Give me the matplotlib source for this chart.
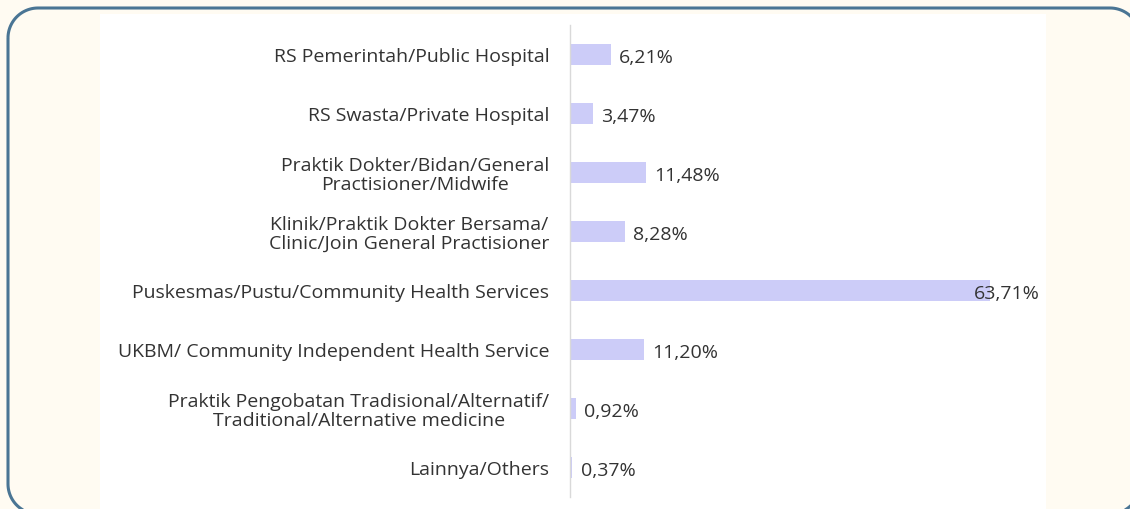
"""Health facility usage - horizontal bar chart."""

import matplotlib
matplotlib.use("Agg")
import matplotlib.pyplot as plt
import matplotlib.patches as mpatches
import numpy as np

# ── data ──────────────────────────────────────────────────────────────────────

categories = [
    "RS Pemerintah/Public Hospital",
    "RS Swasta/Private Hospital",
    "Praktik Dokter/Bidan/General\nPractisioner/Midwife",
    "Klinik/Praktik Dokter Bersama/\nClinic/Join General Practisioner",
    "Puskesmas/Pustu/Community Health Services",
    "UKBM/ Community Independent Health Service",
    "Praktik Pengobatan Tradisional/Alternatif/\nTraditional/Alternative medicine",
    "Lainnya/Others",
]
values = [6.21, 3.47, 11.48, 8.28, 63.71, 11.20, 0.92, 0.37]
value_labels = ["6,21%", "3,47%", "11,48%", "8,28%", "63,71%", "11,20%", "0,92%", "0,37%"]

# ── style ─────────────────────────────────────────────────────────────────────

BG = "#FFFBF2"
BORDER = "#4A7594"
BAR = "#CCCCF8"
TEXT = "#333333"
FS = 14
plt.rcParams["font.family"] = ["Open Sans", "DejaVu Sans"]

W, H = 1130, 510
fig = plt.figure(figsize=(W / 100, H / 100), dpi=100)
fig.patch.set_facecolor(BG)


def rounded_frame(x0, y0, x1, y1, r, n=24):
    """Vertices of a rounded rectangle in pixel coords (y down)."""
    pts = []
    corners = [
        (x0 + r, y0 + r, np.pi, 1.5 * np.pi),        # top-left
        (x1 - r, y0 + r, 1.5 * np.pi, 2 * np.pi),    # top-right
        (x1 - r, y1 - r, 0, 0.5 * np.pi),            # bottom-right
        (x0 + r, y1 - r, 0.5 * np.pi, np.pi),        # bottom-left
    ]
    for cx, cy, a0, a1 in corners:
        t = np.linspace(a0, a1, n)
        pts.extend(zip(cx + r * np.cos(t), cy + r * np.sin(t)))
    return np.array(pts)


# background axes in pixel units (y down) for the panel and rounded frame
bg = fig.add_axes([0, 0, 1, 1], zorder=-1)
bg.set_xlim(0, W)
bg.set_ylim(H, 0)
bg.axis("off")
bg.add_patch(mpatches.Rectangle((100, 15), 946, 500, facecolor="white",
                                edgecolor="none"))
bg.add_patch(mpatches.Polygon(rounded_frame(8, 9, 1140, 515, 30), closed=True,
                              facecolor="none", edgecolor=BORDER, linewidth=2.2,
                              joinstyle="round", clip_on=False))

ax = fig.add_axes([570 / W, 12 / H, 475 / W, 472 / H], zorder=1)
ax.set_facecolor("none")

y = np.arange(len(categories))
ax.barh(y, values, height=0.36, color=BAR, zorder=2)

xmax = 72.0
ax.set_xlim(0, xmax)
ax.set_ylim(len(categories) - 0.5, -0.5)

ax.set_yticks(y)
ax.set_yticklabels(categories, fontsize=FS, color=TEXT,
                   multialignment="center", linespacing=1.05)
ax.tick_params(axis="y", length=0, pad=15)
ax.set_xticks([])

for s in ("top", "right", "bottom"):
    ax.spines[s].set_visible(False)
ax.spines["left"].set_color("#D9D9D9")
ax.spines["left"].set_linewidth(1.0)

for yi, v, lab in zip(y, values, value_labels):
    if v > 0.85 * xmax:
        ax.annotate(lab, (xmax, yi), xytext=(-4, -2), textcoords="offset points",
                    ha="right", va="center", fontsize=FS, color=TEXT, zorder=3)
    else:
        ax.annotate(lab, (v, yi), xytext=(6, -2), textcoords="offset points",
                    ha="left", va="center", fontsize=FS, color=TEXT, zorder=3)

fig.savefig("out.png", dpi=100, facecolor=BG)
plt.close(fig)
